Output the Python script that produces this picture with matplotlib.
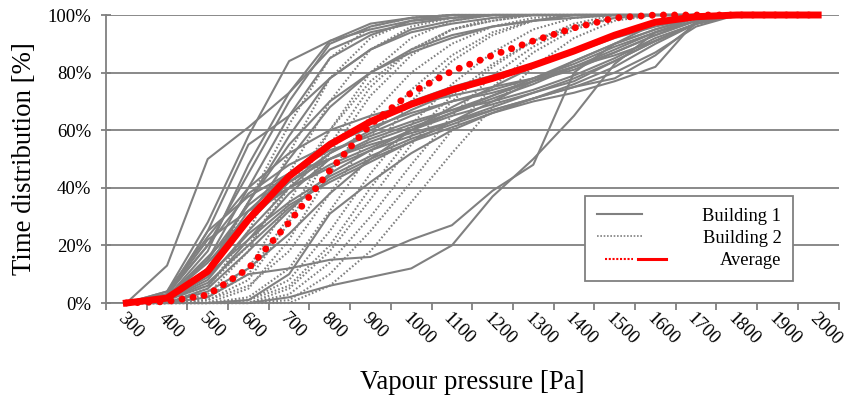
import matplotlib
matplotlib.use("Agg")
import matplotlib.pyplot as plt
from matplotlib.lines import Line2D
from matplotlib.ticker import PercentFormatter, FixedLocator

plt.rcParams['font.family'] = ['Liberation Serif', 'DejaVu Serif']

# Vapour pressure classes [Pa]
pressure = ['300', '400', '500', '600', '700', '800', '900', '1000', '1100',
            '1200', '1300', '1400', '1500', '1600', '1700', '1800', '1900', '2000']

# Building 1 - cumulative time distribution [%], one list per room
building1 = [
    [0, 13, 50, 61, 73, 91, 97, 99, 100, 100, 100, 100, 100, 100, 100, 100, 100, 100],
    [0, 4, 28, 58, 84, 91, 95, 98, 99, 100, 100, 100, 100, 100, 100, 100, 100, 100],
    [0, 3, 20, 45, 70, 90, 96, 99, 100, 100, 100, 100, 100, 100, 100, 100, 100, 100],
    [0, 2, 15, 40, 65, 85, 93, 98, 100, 100, 100, 100, 100, 100, 100, 100, 100, 100],
    [0, 2, 18, 48, 73, 88, 94, 97, 99, 100, 100, 100, 100, 100, 100, 100, 100, 100],
    [0, 1, 12, 35, 58, 78, 88, 94, 97, 99, 100, 100, 100, 100, 100, 100, 100, 100],
    [0, 1, 10, 30, 50, 68, 80, 88, 93, 96, 98, 99, 100, 100, 100, 100, 100, 100],
    [0, 2, 12, 32, 45, 56, 63, 70, 75, 79, 83, 87, 92, 96, 99, 100, 100, 100],
    [0, 1, 8, 25, 40, 52, 59, 65, 70, 74, 78, 83, 89, 94, 98, 100, 100, 100],
    [0, 3, 20, 38, 48, 55, 61, 66, 70, 73, 77, 81, 87, 93, 98, 100, 100, 100],
    [0, 2, 15, 34, 45, 53, 58, 63, 67, 70, 74, 79, 85, 92, 97, 100, 100, 100],
    [0, 1, 10, 28, 42, 50, 56, 61, 66, 71, 76, 82, 88, 94, 98, 100, 100, 100],
    [0, 2, 14, 30, 40, 48, 54, 60, 65, 69, 73, 77, 84, 91, 97, 100, 100, 100],
    [0, 1, 6, 22, 38, 50, 57, 62, 67, 72, 77, 82, 87, 93, 98, 100, 100, 100],
    [0, 0, 5, 18, 32, 45, 53, 60, 66, 72, 78, 84, 90, 95, 99, 100, 100, 100],
    [0, 2, 25, 37, 45, 50, 55, 59, 63, 67, 71, 75, 80, 87, 96, 100, 100, 100],
    [0, 3, 22, 32, 40, 47, 53, 58, 63, 68, 73, 78, 84, 91, 97, 100, 100, 100],
    [0, 1, 9, 24, 35, 44, 51, 57, 62, 67, 71, 75, 78, 86, 97, 100, 100, 100],
    [0, 1, 7, 20, 33, 43, 50, 56, 61, 66, 70, 73, 77, 82, 98, 100, 100, 100],
    [0, 0, 0, 0, 2, 6, 9, 12, 20, 37, 50, 65, 83, 94, 99, 100, 100, 100],
    [0, 0, 2, 10, 12, 15, 16, 22, 27, 39, 48, 80, 90, 97, 100, 100, 100, 100],
    [0, 0, 0, 1, 10, 31, 42, 52, 60, 66, 71, 76, 82, 90, 97, 100, 100, 100],
    [0, 1, 10, 22, 34, 42, 49, 56, 63, 70, 77, 84, 90, 95, 99, 100, 100, 100],
    [0, 2, 16, 30, 42, 52, 60, 67, 73, 78, 83, 88, 93, 97, 99, 100, 100, 100],
    [0, 1, 12, 35, 55, 70, 80, 87, 92, 96, 98, 100, 100, 100, 100, 100, 100, 100],
    [0, 0, 4, 12, 24, 38, 50, 60, 68, 75, 82, 88, 93, 97, 99, 100, 100, 100],
    [0, 4, 23, 40, 52, 60, 65, 69, 72, 75, 78, 82, 86, 91, 97, 100, 100, 100],
    [0, 3, 25, 55, 65, 78, 88, 95, 98, 100, 100, 100, 100, 100, 100, 100, 100, 100],
]

# Building 2 - cumulative time distribution [%]
building2 = [
    [0, 1, 10, 35, 62, 85, 96, 99, 100, 100, 100, 100, 100, 100, 100, 100, 100, 100],
    [0, 0, 5, 25, 52, 78, 92, 98, 100, 100, 100, 100, 100, 100, 100, 100, 100, 100],
    [0, 0, 3, 18, 45, 70, 88, 96, 99, 100, 100, 100, 100, 100, 100, 100, 100, 100],
    [0, 0, 2, 12, 35, 60, 80, 92, 98, 100, 100, 100, 100, 100, 100, 100, 100, 100],
    [0, 0, 1, 8, 28, 52, 72, 86, 95, 99, 100, 100, 100, 100, 100, 100, 100, 100],
    [0, 0, 0, 5, 22, 45, 65, 80, 90, 96, 99, 100, 100, 100, 100, 100, 100, 100],
    [0, 0, 0, 2, 12, 32, 52, 70, 84, 93, 98, 100, 100, 100, 100, 100, 100, 100],
    [0, 0, 0, 1, 8, 25, 45, 62, 76, 87, 95, 99, 100, 100, 100, 100, 100, 100],
    [0, 0, 0, 0, 5, 18, 36, 55, 70, 82, 91, 97, 100, 100, 100, 100, 100, 100],
    [0, 0, 0, 0, 3, 14, 30, 48, 65, 79, 89, 96, 99, 100, 100, 100, 100, 100],
    [0, 0, 0, 0, 1, 10, 25, 42, 60, 75, 87, 95, 99, 100, 100, 100, 100, 100],
    [0, 0, 0, 0, 0, 6, 18, 35, 52, 68, 82, 92, 98, 100, 100, 100, 100, 100],
    [0, 0, 1, 6, 18, 38, 58, 74, 86, 94, 98, 100, 100, 100, 100, 100, 100, 100],
    [0, 0, 2, 10, 30, 55, 75, 88, 95, 98, 100, 100, 100, 100, 100, 100, 100, 100],
    [0, 1, 6, 20, 40, 60, 77, 88, 95, 98, 100, 100, 100, 100, 100, 100, 100, 100],
    [0, 0, 0, 1, 6, 20, 40, 58, 72, 83, 91, 96, 99, 100, 100, 100, 100, 100],
]

# averages as plotted in the original figure
avg_building1 = [0, 1.7, 11, 29, 44, 55, 63, 69, 74, 78, 82.5, 87.5, 93, 97.5, 99.4, 100, 100, 100]
avg_building2 = [0, 0.5, 2.8, 12, 28, 46, 62, 73, 80.5, 86, 91, 95.5, 99, 100, 100, 100, 100, 100]

grey = '#808080'
red = '#ff0000'
x = list(range(len(pressure)))


class AverageHandler:
    """legend key: red dotted piece followed by a red solid piece"""
    def legend_artist(self, legend, orig_handle, fontsize, handlebox):
        x0, y0 = -handlebox.xdescent, -handlebox.ydescent
        w, h = handlebox.width, handlebox.height
        yc = y0 + h / 2
        dotted = Line2D([x0 - 0.22 * w, x0 + 0.4 * w], [yc, yc], color=red, lw=1.5,
                        linestyle=(0, (1, 0.8)))
        solid = Line2D([x0 + 0.51 * w, x0 + 1.13 * w], [yc, yc], color=red, lw=2.2)
        handlebox.add_artist(dotted)
        handlebox.add_artist(solid)
        return solid


fig = plt.figure(figsize=(8.49, 4.01), dpi=100)
ax = fig.add_axes([106 / 849, 1 - 303 / 401, (838.5 - 106) / 849, (303 - 15) / 401])

for s in building1:
    ax.plot(x, s, color=grey, lw=1.5, clip_on=False, zorder=2)
for s in building2:
    ax.plot(x, s, color=grey, lw=1.5, linestyle=(0, (0.8, 1.0)), clip_on=False, zorder=2)

ax.plot(x, avg_building1, color=red, lw=5, clip_on=False, zorder=3,
        solid_joinstyle='round')
ax.plot(x, avg_building2, color=red, lw=5, linestyle=(0, (0.01, 1.6)),
        dash_capstyle='round', clip_on=False, zorder=4)

ax.set_xlim(-0.5, len(pressure) - 0.5)
ax.set_ylim(0, 100)

# axes styling (Excel-like)
for side in ['top', 'right']:
    ax.spines[side].set_visible(False)
for side in ['left', 'bottom']:
    ax.spines[side].set_color(grey)
    ax.spines[side].set_linewidth(1.3)
ax.yaxis.grid(True, color=grey, lw=1.3)
ax.set_axisbelow(True)

ax.set_yticks([0, 20, 40, 60, 80, 100])
ax.yaxis.set_major_formatter(PercentFormatter(decimals=0))
ax.tick_params(axis='y', direction='inout', length=7, color=grey, width=1.3,
               labelsize=13.5, pad=7)

# labels sit slightly left of the category centre (invisible major ticks)
ax.set_xticks([i - 0.15 for i in x])
ax.set_xticklabels(pressure, rotation=-45, ha='left', va='center',
                   rotation_mode='anchor')
ax.xaxis.set_minor_locator(FixedLocator([i - 0.5 for i in range(len(pressure) + 1)]))
ax.tick_params(axis='x', which='major', length=0, labelsize=13.5, pad=9)
ax.tick_params(axis='x', which='minor', direction='out', length=5, color=grey, width=1.3)

ax.set_xlabel('Vapour pressure [Pa]', fontsize=19.3, labelpad=16)
ax.set_ylabel('Time distribution [%]', fontsize=19.3, labelpad=8)

h1 = Line2D([], [], color=grey, lw=1.5)
h2 = Line2D([], [], color=grey, lw=1.2, linestyle=(0, (1, 1)))
h3 = Line2D([], [], color=red, lw=2)
leg = ax.legend([h1, h2, h3], ['Building 1', 'Building 2', 'Average'],
                handler_map={h3: AverageHandler()},
                loc='lower left', bbox_to_anchor=(0.654, 0.0764),
                borderaxespad=0, fontsize=13.3, handlelength=2.45,
                handletextpad=3.25, labelspacing=0.28, borderpad=0.65,
                fancybox=False, framealpha=1, edgecolor=grey)
leg.get_frame().set_linewidth(1.3)
# right-align the entries like the original legend
for col in leg._legend_handle_box.get_children():
    col.align = 'right'

fig.savefig('out.png', dpi=100)
